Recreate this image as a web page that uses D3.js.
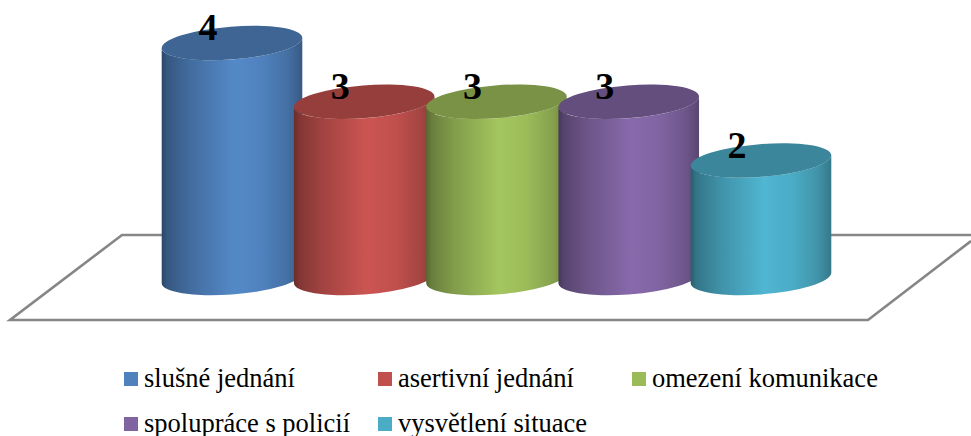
<!DOCTYPE html>
<html>
<head>
<meta charset="utf-8">
<script src="https://cdn.jsdelivr.net/npm/d3@7"></script>
<style>
html, body { margin: 0; padding: 0; background: #fff; }
svg { display: block; }
text { font-family: "Liberation Serif", serif; fill: #000; }
</style>
</head>
<body>
<svg id="chart" width="971" height="436"></svg>
<script>
const categories = ["slušné jednání", "asertivní jednání", "omezení komunikace", "spolupráce s policií", "vysvětlení situace"];
const values = [4, 3, 3, 3, 2];
const colors = ["#4f81bd", "#c0504d", "#9bbb59", "#8064a2", "#4bacc6"];

const svg = d3.select("#chart");

const x = d3.scalePoint().domain(categories).range([232, 761]);
const y = d3.scaleLinear().domain([0, 4]).range([278, 43]);

// Cylinder cross-section: a slightly rotated ellipse.
const rx = 70.5, ry = 16.4, tilt = -4.5;
const rad = tilt * Math.PI / 180;
const edgeX = Math.sqrt(rx * rx * Math.cos(rad) ** 2 + ry * ry * Math.sin(rad) ** 2);
const edgeY = (rx * rx - ry * ry) * Math.sin(-rad) * Math.cos(rad) / edgeX;

function shade(hex, k) {
  const c = d3.rgb(hex);
  return d3.rgb(Math.min(255, c.r * k), Math.min(255, c.g * k), Math.min(255, c.b * k)).formatHex();
}

const defs = svg.append("defs");
const grads = defs.selectAll("linearGradient").data(colors).join("linearGradient")
  .attr("id", (d, i) => "side" + i)
  .attr("x1", 0).attr("x2", 1).attr("y1", 0).attr("y2", 0);
const stops = [[0, 0.55], [0.04, 0.68], [0.2, 0.84], [0.52, 1.06], [0.72, 1.0], [0.9, 0.86], [1, 0.7]];
grads.selectAll("stop").data(c => stops.map(s => ({ o: s[0], c: shade(c, s[1]) }))).join("stop")
  .attr("offset", d => d.o).attr("stop-color", d => d.c);

// Floor of the 3D plot area
const floor = svg.append("g").attr("fill", "none").attr("stroke", "#868686").attr("stroke-width", 2.6);
floor.append("path").attr("d", d3.line()([[971, 235], [122, 235], [10, 320], [868, 320], [971, 241]]));

// Cylinders, left to right so each one overlaps its neighbour
const bars = svg.append("g").selectAll("g").data(categories).join("g")
  .attr("transform", d => `translate(${x(d)},0)`);

bars.append("path")
  .attr("fill", (d, i) => `url(#side${i})`)
  .attr("d", (d, i) => {
    const t = y(values[i]), b = y(0);
    return `M${-edgeX},${t + edgeY} L${-edgeX},${b + edgeY} ` +
      `A${rx},${ry} ${tilt} 0 0 ${edgeX},${b - edgeY} L${edgeX},${t - edgeY} ` +
      `A${rx},${ry} ${tilt} 0 1 ${-edgeX},${t + edgeY} Z`;
  });

bars.append("ellipse")
  .attr("rx", rx).attr("ry", ry)
  .attr("fill", (d, i) => shade(colors[i], 0.78))
  .attr("transform", (d, i) => `translate(0,${y(values[i])}) rotate(${tilt})`);

// Value labels sit left of each cylinder's centre
svg.append("g").selectAll("text").data(categories).join("text")
  .attr("x", d => x(d) - 24)
  .attr("y", (d, i) => y(values[i]) - 3)
  .attr("text-anchor", "middle")
  .attr("font-size", 38)
  .attr("font-weight", "bold")
  .text((d, i) => values[i]);

// Legend, three entries on the first row and two on the second
const legendCols = [124, 378, 632];
const legendRows = [387, 432];
const legend = svg.append("g").selectAll("g").data(categories).join("g")
  .attr("transform", (d, i) => `translate(${legendCols[i % 3]},${legendRows[Math.floor(i / 3)]})`);
legend.append("rect").attr("x", 0).attr("y", -15).attr("width", 14).attr("height", 14)
  .attr("fill", (d, i) => colors[i]);
legend.append("text").attr("x", 20).attr("y", 0).attr("font-size", 26.5).text(d => d);
</script>
</body>
</html>
